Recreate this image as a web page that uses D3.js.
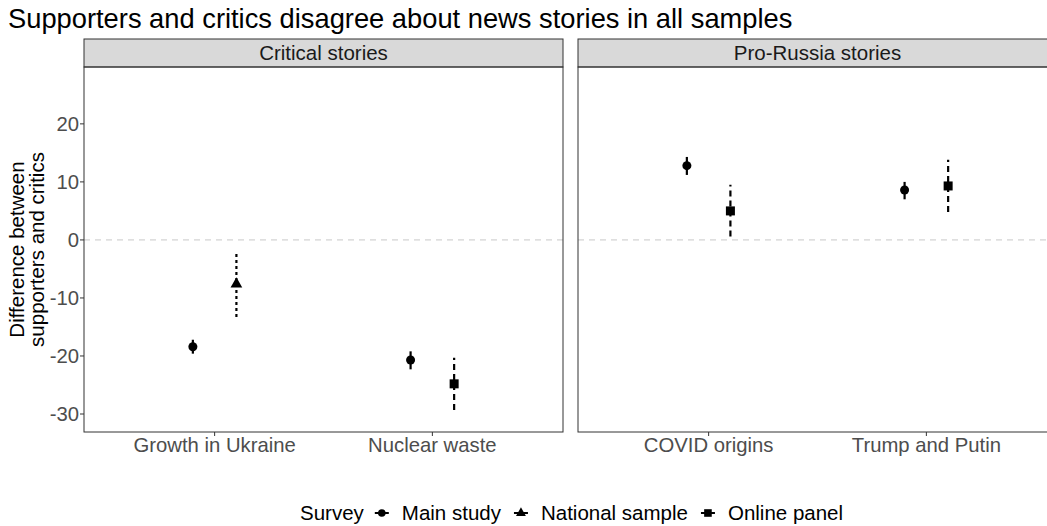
<!DOCTYPE html>
<html>
<head>
<meta charset="utf-8">
<script src="https://cdn.jsdelivr.net/npm/d3@7"></script>
<style>
  body { margin: 0; background: #fff; overflow: hidden; }
  text { font-family: "Liberation Sans", Arial, sans-serif; }
</style>
</head>
<body>
<div id="chart"></div>
<script>
// panels and categories
const panels = ["Critical stories", "Pro-Russia stories"];
const categories = [["Growth in Ukraine", "Nuclear waste"], ["COVID origins", "Trump and Putin"]];
const surveys = ["Main study", "National sample", "Online panel"];

// estimates: [panel, category, survey, estimate, lower, upper]
const points = [
    [0, "Growth in Ukraine", "Main study", -18.4, -19.6, -17.2],
    [0, "Growth in Ukraine", "National sample", -7.6, -13.3, -2.1],
    [0, "Nuclear waste", "Main study", -20.7, -22.3, -19.2],
    [0, "Nuclear waste", "Online panel", -24.8, -29.3, -20.3],
    [1, "COVID origins", "Main study", 12.8, 11.2, 14.3],
    [1, "COVID origins", "Online panel", 5.0, 0.6, 9.5],
    [1, "Trump and Putin", "Main study", 8.6, 7.0, 10.0],
    [1, "Trump and Putin", "Online panel", 9.3, 4.8, 13.8]
];
const yTicks = [-30, -20, -10, 0, 10, 20];

const width = 1047, height = 526;
const svg = d3.select("#chart").append("svg")
    .attr("width", width)
    .attr("height", height);

// right panel runs past the window edge, as in the original
let panelX = [[84, 563], [578, 1057]];
let stripTop = 39, panelTop = 67, panelBottom = 432;

let y = d3.scaleLinear().domain([-33.1, 29.8]).range([panelBottom, panelTop]);

let dodge = {"Main study": -0.1, "National sample": 0.1, "Online panel": 0.1};
let dash = {"Main study": null, "National sample": "3,3", "Online panel": "6,4"};

// symbol drawing
function drawSymbol(g, survey, cx, cy, s) {
    if (survey === "Main study") {
        g.append("circle").attr("cx", cx).attr("cy", cy).attr("r", s).attr("fill", "#000");
    } else if (survey === "National sample") {
        let t = s * 1.3;
        g.append("path")
            .attr("d", `M${cx},${cy - t * 1.15} L${cx + t},${cy + t * 0.6} L${cx - t},${cy + t * 0.6} Z`)
            .attr("fill", "#000");
    } else {
        g.append("rect").attr("x", cx - s).attr("y", cy - s).attr("width", 2 * s).attr("height", 2 * s).attr("fill", "#000");
    }
}

// title
svg.append("text")
    .attr("x", 8).attr("y", 28)
    .attr("font-size", 27.3)
    .attr("fill", "#000")
    .text("Supporters and critics disagree about news stories in all samples");

// y axis title
svg.append("text")
    .attr("transform", "translate(24," + ((panelTop + panelBottom) / 2) + ") rotate(-90)")
    .attr("text-anchor", "middle")
    .attr("font-size", 20.5)
    .selectAll("tspan")
    .data(["Difference between", "supporters and critics"])
    .enter()
    .append("tspan")
    .attr("x", 0)
    .attr("dy", (d, i) => i === 0 ? 0 : 19.5)
    .text(d => d);

panels.forEach((p, pi) => {
    let [x0, x1] = panelX[pi];
    let x = d3.scaleLinear().domain([0.4, 2.6]).range([x0, x1]);
    let g = svg.append("g");

    // strip
    g.append("rect")
        .attr("x", x0).attr("y", stripTop)
        .attr("width", x1 - x0).attr("height", panelTop - stripTop)
        .attr("fill", "#d9d9d9").attr("stroke", "#333").attr("stroke-width", 1);
    g.append("text")
        .attr("x", (x0 + x1) / 2).attr("y", panelTop - 7)
        .attr("text-anchor", "middle")
        .attr("font-size", 20.5)
        .attr("fill", "#1a1a1a")
        .text(p);

    // zero line
    g.append("line")
        .attr("x1", x0).attr("x2", x1)
        .attr("y1", y(0)).attr("y2", y(0))
        .attr("stroke", "#c8c8c8").attr("stroke-dasharray", "6,5").attr("stroke-width", 1);

    // points
    points.filter(d => d[0] === pi).forEach(d => {
        let ci = categories[pi].indexOf(d[1]) + 1;
        let cx = x(ci + dodge[d[2]]);
        g.append("line")
            .attr("x1", cx).attr("x2", cx)
            .attr("y1", y(d[4])).attr("y2", y(d[5]))
            .attr("stroke", "#000").attr("stroke-width", 2.2)
            .attr("stroke-dasharray", dash[d[2]]);
        drawSymbol(g, d[2], cx, y(d[3]), 4.5);
    });

    // border
    g.append("rect")
        .attr("x", x0).attr("y", panelTop)
        .attr("width", x1 - x0).attr("height", panelBottom - panelTop)
        .attr("fill", "none").attr("stroke", "#333").attr("stroke-width", 1);

    // x axis
    let xa = g.append("g").attr("transform", `translate(0,${panelBottom})`);
    categories[pi].forEach((c, i) => {
        let cx = x(i + 1);
        xa.append("line").attr("x1", cx).attr("x2", cx).attr("y1", 0).attr("y2", 4).attr("stroke", "#333");
        xa.append("text")
            .attr("x", cx).attr("y", 20)
            .attr("text-anchor", "middle")
            .attr("font-size", 20.3)
            .attr("fill", "#4d4d4d")
            .text(c);
    });

    // y axis (left panel only)
    if (pi === 0) {
        let ya = g.append("g");
        yTicks.forEach(t => {
            ya.append("line").attr("x1", x0 - 4).attr("x2", x0).attr("y1", y(t)).attr("y2", y(t)).attr("stroke", "#333");
            ya.append("text")
                .attr("x", x0 - 5).attr("y", y(t) + 7)
                .attr("text-anchor", "end")
                .attr("font-size", 20.3)
                .attr("fill", "#4d4d4d")
                .text(t);
        });
    }
});

// legend
let leg = svg.append("g").attr("transform", "translate(0,513)");
let lx = 300;
let st = leg.append("text").attr("x", lx).attr("y", 7).attr("font-size", 20.5).text("Survey");
lx += st.node().getComputedTextLength() + 11;
surveys.forEach(s => {
    leg.append("line").attr("x1", lx).attr("x2", lx + 14).attr("y1", 0).attr("y2", 0).attr("stroke", "#000").attr("stroke-width", 2);
    drawSymbol(leg, s, lx + 7, 0, 3.8);
    let t = leg.append("text").attr("x", lx + 27).attr("y", 7).attr("font-size", 20.5).text(s);
    lx += 27 + t.node().getComputedTextLength() + 13;
});
</script>
</body>
</html>
